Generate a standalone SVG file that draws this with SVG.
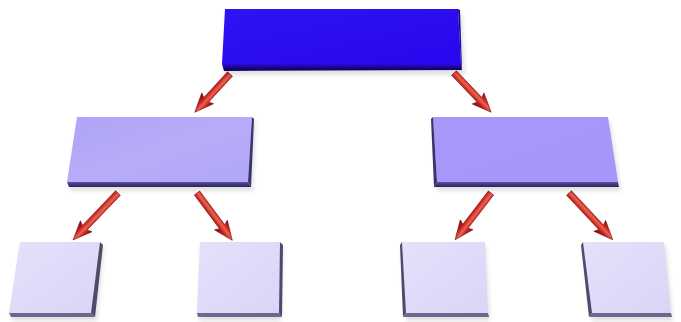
<svg xmlns="http://www.w3.org/2000/svg" width="681" height="322" viewBox="0 0 681 322">
<defs>
<linearGradient id="gTop" x1="0" y1="0" x2="1" y2="1"><stop offset="0" stop-color="#2c14f2"/><stop offset="1" stop-color="#2a06ee"/></linearGradient>
<linearGradient id="gTopFront" x1="0" y1="0" x2="0" y2="1"><stop offset="0" stop-color="#2a0ad8"/><stop offset="1" stop-color="#0c0048"/></linearGradient>
<linearGradient id="gMidL" x1="0" y1="0" x2="1" y2="1"><stop offset="0" stop-color="#afa4f6"/><stop offset="0.5" stop-color="#b6acf9"/><stop offset="1" stop-color="#b1a7f8"/></linearGradient>
<linearGradient id="gMidR" x1="0" y1="0" x2="1" y2="1"><stop offset="0" stop-color="#a698f8"/><stop offset="1" stop-color="#a696fb"/></linearGradient>
<linearGradient id="gMidFront" x1="0" y1="0" x2="0" y2="1"><stop offset="0" stop-color="#5a4fa8"/><stop offset="1" stop-color="#2a2450"/></linearGradient>
<linearGradient id="gLeaf" x1="0" y1="0" x2="1" y2="1"><stop offset="0" stop-color="#e4e1fb"/><stop offset="1" stop-color="#d9d5f7"/></linearGradient>
<linearGradient id="gArrow" x1="0" y1="0" x2="0" y2="1"><stop offset="0" stop-color="#7a0806"/><stop offset="0.3" stop-color="#d22c22"/><stop offset="0.45" stop-color="#e86454"/><stop offset="0.7" stop-color="#bc1a14"/><stop offset="1" stop-color="#6e0806"/></linearGradient>
<filter id="soft" x="-10%" y="-10%" width="120%" height="130%"><feGaussianBlur stdDeviation="2"/></filter>
<style>
.shadow{fill:#000;opacity:0.12;filter:url(#soft)}
.leaf{fill:url(#gLeaf)}
.leafEdge{fill:#4e4a6c}
.leafFront{fill:#6c6890}
.midFront{fill:url(#gMidFront)}
.midSide{fill:#3a3270}
.arrow{fill:url(#gArrow);stroke:#7e0c08;stroke-width:0.6}
</style>
</defs>

<g id="connectors">
<path class="arrow" transform="translate(230,74) rotate(132.6)" d="M0,-3.3 H35 L33,-8 L52,0 L33,8 L35,3.3 H0 Z"/>
<path class="arrow" transform="translate(454,73) rotate(46.5)" d="M0,-3.3 H37 L35,-8 L54,0 L35,8 L37,3.3 H0 Z"/>
<path class="arrow" transform="translate(118,193) rotate(133.75)" d="M0,-3.3 H48 L46,-8 L65,0 L46,8 L48,3.3 H0 Z"/>
<path class="arrow" transform="translate(197,193) rotate(53.3)" d="M0,-3.3 H42 L40,-8 L59,0 L40,8 L42,3.3 H0 Z"/>
<path class="arrow" transform="translate(491,193) rotate(127.5)" d="M0,-3.3 H42 L40,-8 L59,0 L40,8 L42,3.3 H0 Z"/>
<path class="arrow" transform="translate(569,193) rotate(46.9)" d="M0,-3.3 H47 L45,-8 L64,0 L45,8 L47,3.3 H0 Z"/>
</g>

<g id="node-root">
<polygon class="shadow" points="226,14 462,14 465,75 224,75"/>
<polygon fill="url(#gTop)" points="225,9 458,9 461,64 222,64"/>
<polygon fill="#1a0890" points="458,9 460,10 462,70 461,64"/>
<polygon fill="url(#gTopFront)" points="222,64 461,64 462,70 224,71"/>
</g>

<g id="node-mid-left">
<polygon class="shadow" points="78,121 256,121 253,191 70,191"/>
<polygon fill="url(#gMidL)" points="77,117 252,117 248,182 67,182"/>
<polygon class="midSide" points="252,117 254,119 251,187 248,182"/>
<polygon class="midFront" points="67,182 248,182 251,187 69,187"/>
</g>

<g id="node-mid-right">
<polygon class="shadow" points="433,121 610,121 621,191 437,191"/>
<polygon fill="url(#gMidR)" points="433,117 608,117 618,182 437,182"/>
<polygon class="midSide" points="433,117 431,119 434,187 437,182"/>
<polygon class="midFront" points="437,182 618,182 619,187 434,187"/>
</g>

<g id="node-leaf-1">
<polygon class="shadow" points="21,246 104,246 97,321 11,321"/>
<polygon class="leaf" points="20,242 100,242 91,313 9,313"/>
<polygon class="leafEdge" points="100,242 103,245 95,317 91,313"/>
<polygon class="leafFront" points="9,313 91,313 95,317 11,317"/>
</g>

<g id="node-leaf-2">
<polygon class="shadow" points="201,246 283,246 281,321 199,321"/>
<polygon class="leaf" points="200,242 280,242 279,313 197,313"/>
<polygon class="leafEdge" points="280,242 283,245 282,317 279,313"/>
<polygon class="leafFront" points="197,313 279,313 282,317 198,317"/>
</g>

<g id="node-leaf-3">
<polygon class="shadow" points="401,246 486,246 490,321 406,321"/>
<polygon class="leaf" points="402,242 485,242 488,313 406,313"/>
<polygon class="leafEdge" points="402,242 400,245 403,317 406,313"/>
<polygon class="leafFront" points="406,313 488,313 489,317 403,317"/>
</g>

<g id="node-leaf-4">
<polygon class="shadow" points="582,246 666,246 673,321 592,321"/>
<polygon class="leaf" points="583,242 664,242 671,313 592,313"/>
<polygon class="leafEdge" points="583,242 581,245 589,317 592,313"/>
<polygon class="leafFront" points="592,313 671,313 672,317 589,317"/>
</g>
</svg>
